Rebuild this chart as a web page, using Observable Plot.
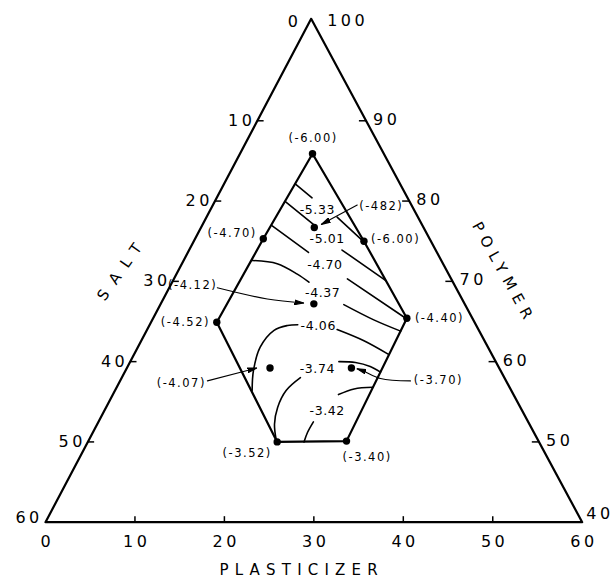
<!DOCTYPE html>
<html>
<head>
<meta charset="utf-8">
<script src="https://cdn.jsdelivr.net/npm/d3@7"></script>
<script src="https://cdn.jsdelivr.net/npm/@observablehq/plot@0.6"></script>
<style>
  html, body { margin: 0; padding: 0; background: #fff; }
  #chart svg { display: block; }
</style>
</head>
<body>
<div id="chart"></div>
<script>
// ---------- DATA (compositions in %, [plasticizer, salt]; polymer = 100 - plasticizer - salt) ----------
const plasticizerTicks = [0, 10, 20, 30, 40, 50, 60];
const saltTicks = [0, 10, 20, 30, 40, 50, 60];
const polymerTicks = [100, 90, 80, 70, 60, 50, 40];

// design points
const pointPlasticizer = [6.9, 6.7, 6.7, 20.9, 28.6, 27.7, 18.1, 11.7, 16.4, 15.5, 24.6];
const pointSalt        = [7.2, 18.0, 28.4, 29.1, 21.3, 6.9, 6.9, 11.6, 16.4, 25.3, 16.2];
const pointLabel = ["(-6.00)", "(-4.70)", "(-4.52)", "(-3.52)", "(-3.40)", "(-4.40)", "(-6.00)",
                    "(-482)", "(-4.12)", "(-4.07)", "(-3.70)"];
const regionOrder = [0, 1, 2, 3, 4, 5, 6, 0];

// contour lines (each split in two pieces around its label)
const contourLevels = ["-5.33", "-5.01", "-4.70", "-4.37", "-4.06", "-3.74", "-3.42"];
const contourLabelAt = [[10.9, 10.2], [13.8, 10.9], [15.2, 12.8], [16.7, 14.8], [18.2, 17.3], [20.8, 20.1], [24.5, 21.6]];
const contour533 = [[[6.9, 11.0], [9.6, 10.0]], [[13.6, 8.4], [18.0, 7.0]]];
const contour501 = [[[6.9, 13.2], [11.4, 11.5]], [[16.2, 9.9], [23.0, 6.9]]];
const contour470 = [[[6.9, 16.2], [12.6, 13.8]], [[18.6, 11.1], [27.4, 7.1]]];
const contour437 = [[[6.8, 20.6], [9.8, 18.0], [12.7, 16.4], [14.5, 15.6]],
                    [[19.8, 13.1], [24.1, 10.7], [27.8, 8.4]]];
const contour406 = [[[14.9, 28.7], [13.8, 27.3], [13.1, 25.1], [13.6, 22.5], [14.8, 20.7], [15.9, 19.5]],
                    [[20.6, 15.4], [24.3, 13.1], [27.9, 11.2]]];
const contour374 = [[[20.7, 29.1], [19.5, 28.3], [18.8, 26.9], [18.7, 24.9], [19.5, 22.5]],
                    [[22.8, 17.2], [24.7, 15.4], [26.6, 14.0], [28.1, 13.2]]];
const contour342 = [[[23.9, 26.1], [23.7, 25.1], [23.7, 23.8]],
                    [[24.8, 19.3], [26.2, 17.2], [28.2, 15.0]]];
const contourPaths = [contour533, contour501, contour470, contour437, contour406, contour374, contour342];

// leader arrows from labels to points 7..10
const leader482 = [[15.1, 5.4], [12.3, 10.6]];
const leader412 = [[4.6, 26.2], [10.9, 21.3], [15.2, 17.5]];
const leader407 = [[9.3, 33.1], [14.0, 26.8]];
const leader370 = [[32.0, 10.4], [28.5, 13.6], [26.2, 15.0], [25.3, 15.6]];
const leaders = [leader482, leader412, leader407, leader370];
const leaderPoint = [7, 8, 9, 10];

// ---------- GEOMETRY ----------
const T = (p, s) => ({x: 30 + (p - s) / 2, y: 100 - p - s});
const apex = {x: 29.7, y: 102.7};          // where the drawn sides meet
const AH = apex.y - 40;
const leftEdge = s => { const y = 100 - s; return {x: apex.x * (y - 40) / AH, y}; };
const rightEdge = P => ({x: 60 - (60 - apex.x) * (P - 40) / AH, y: P});

const frame = [{x: 0, y: 40}, {x: 60, y: 40}, apex, {x: 0, y: 40}];
const points = pointPlasticizer.map((p, i) => ({...T(p, pointSalt[i]), label: pointLabel[i]}));
const region = regionOrder.map(i => points[i]);

const contourRows = [];
contourPaths.forEach((segs, k) => segs.forEach((seg, j) =>
  seg.forEach(([p, s]) => contourRows.push({...T(p, s), id: k + "-" + j}))));
const contourText = contourLevels.map((t, k) => ({...T(...contourLabelAt[k]), t}));

const leaderRows = [];
leaders.forEach((l, k) => l.forEach(([p, s]) => leaderRows.push({...T(p, s), id: k})));

const innerSalt = saltTicks.filter(s => s > 0 && s < 60);
const innerPoly = polymerTicks.filter(P => P > 40 && P < 100);
const innerPlast = plasticizerTicks.filter(p => p > 0 && p < 60);
const leftTicks = innerSalt.map(s => { const e = leftEdge(s); return {x1: e.x, y1: e.y, x2: e.x + 0.7, y2: e.y}; });
const rightTicks = innerPoly.map(P => { const e = rightEdge(P); return {x1: e.x - 0.8, y1: e.y, x2: e.x, y2: e.y}; });
const bottomTicks = innerPlast.map(p => ({x1: p, y1: 40, x2: p, y2: 40.75}));

function filledArrow(color) {
  return d3.create("svg:marker")
    .attr("viewBox", "-9 -3 10 6")
    .attr("markerWidth", 10).attr("markerHeight", 6)
    .attr("markerUnits", "userSpaceOnUse")
    .attr("orient", "auto")
    .call(m => m.append("path").attr("d", "M-9,-2.3L0,0L-9,2.3Z").attr("fill", color))
    .node();
}

const font = "DejaVu Sans";
const txt = (data, o) => Plot.text(data, {x: "x", y: "y", text: "t", fontFamily: font, fill: "black", ...o});

// layout of the point labels: [dx, dy, anchor]
const pointLabelLayout = [
  [0.6, -15, "middle"], [-6.5, -5, "end"], [-6.8, 0, "end"], [-30, 11, "middle"],
  [20.6, 16, "middle"], [8, 0, "start"], [7, -2, "start"]
];
const leaderLabelLayout = [[2, 1.5, "start"], [0, -2, "end"], [-1.5, 2.7, "end"], [3.3, -0.7, "start"]];

const marks = [
  Plot.line(frame, {x: "x", y: "y", stroke: "black", strokeWidth: 2.2}),
  Plot.link(leftTicks, {x1: "x1", y1: "y1", x2: "x2", y2: "y2", stroke: "black", strokeWidth: 1.5}),
  Plot.link(rightTicks, {x1: "x1", y1: "y1", x2: "x2", y2: "y2", stroke: "black", strokeWidth: 1.5}),
  Plot.link(bottomTicks, {x1: "x1", y1: "y1", x2: "x2", y2: "y2", stroke: "black", strokeWidth: 1.5}),
  Plot.line(region, {x: "x", y: "y", stroke: "black", strokeWidth: 2.2}),
  Plot.line(contourRows, {x: "x", y: "y", z: "id", curve: "catmull-rom", stroke: "black", strokeWidth: 1.6}),
  Plot.line(leaderRows, {x: "x", y: "y", z: "id", curve: "catmull-rom", stroke: "black", strokeWidth: 1.1, markerEnd: filledArrow}),
  Plot.dot(points, {x: "x", y: "y", r: 3.7, fill: "black"}),
  // axis tick labels
  txt(innerSalt.map(s => ({...leftEdge(s), t: String(s)})), {textAnchor: "end", dx: -2, fontSize: 16}),
  txt([{...leftEdge(saltTicks[6]), t: String(saltTicks[6])}], {textAnchor: "end", dx: -2.7, dy: -4.7, fontSize: 16}),
  txt([{...apex, t: String(saltTicks[0])}], {textAnchor: "end", dx: -9.7, dy: 3.4, fontSize: 16}),
  txt([{...apex, t: String(polymerTicks[0])}], {textAnchor: "start", dx: 16, dy: 2.4, fontSize: 16}),
  txt(innerPoly.map(P => ({...rightEdge(P), t: String(P)})), {textAnchor: "start", dx: 7, dy: -1, fontSize: 16}),
  txt([{...rightEdge(polymerTicks[6]), t: String(polymerTicks[6])}], {textAnchor: "start", dx: 4, dy: -8.4, fontSize: 16}),
  txt(plasticizerTicks.map(p => ({x: p, y: 40, t: String(p)})), {textAnchor: "middle", dx: 1.8, dy: 20, fontSize: 16}),
  // axis titles
  txt([{x: 28.3, y: 40, t: "PLASTICIZER"}], {textAnchor: "middle", dx: 3, dy: 48, fontSize: 15}),
  txt([{...leftEdge(28.65), t: "SALT"}], {textAnchor: "middle", dx: -55.8, dy: -2.5, rotate: -55, fontSize: 15}),
  txt([{...rightEdge(71), t: "POLYMER"}], {textAnchor: "middle", dx: 55.5, dy: 0, rotate: 61, fontSize: 15}),
  // contour labels
  txt(contourText, {textAnchor: "middle", dx: 0.4, fontSize: 12.5}),
  // point labels
  ...pointLabelLayout.map(([dx, dy, a], i) =>
    txt([{...points[i], t: points[i].label}], {textAnchor: a, dx, dy, fontSize: 11.5})),
  ...leaderLabelLayout.map(([dx, dy, a], k) =>
    txt([{...T(...leaders[k][0]), t: points[leaderPoint[k]].label}], {textAnchor: a, dx, dy, fontSize: 11.5}))
];

const chart = Plot.plot({
  width: 614,
  height: 578,
  margin: 0,
  x: {domain: [0, 60], range: [45, 581.7], axis: null},
  y: {domain: [40, 100], range: [521.7, 40], axis: null},
  style: {background: "white", overflow: "visible", fontFamily: font},
  marks
});

d3.select(chart).selectAll("text").each(function () {
  const t = this.textContent;
  let ls = 0;
  if (/^\d+$/.test(t)) ls = 3.5;
  else if (t.startsWith("(")) ls = 1.5;
  else if (t.startsWith("-")) ls = 0.6;
  else if (t === "PLASTICIZER") ls = 6.2;
  else if (t === "POLYMER") ls = 6.5;
  else if (t === "SALT") ls = 10;
  this.style.letterSpacing = ls + "px";
});

document.getElementById("chart").appendChild(chart);
</script>
</body>
</html>
